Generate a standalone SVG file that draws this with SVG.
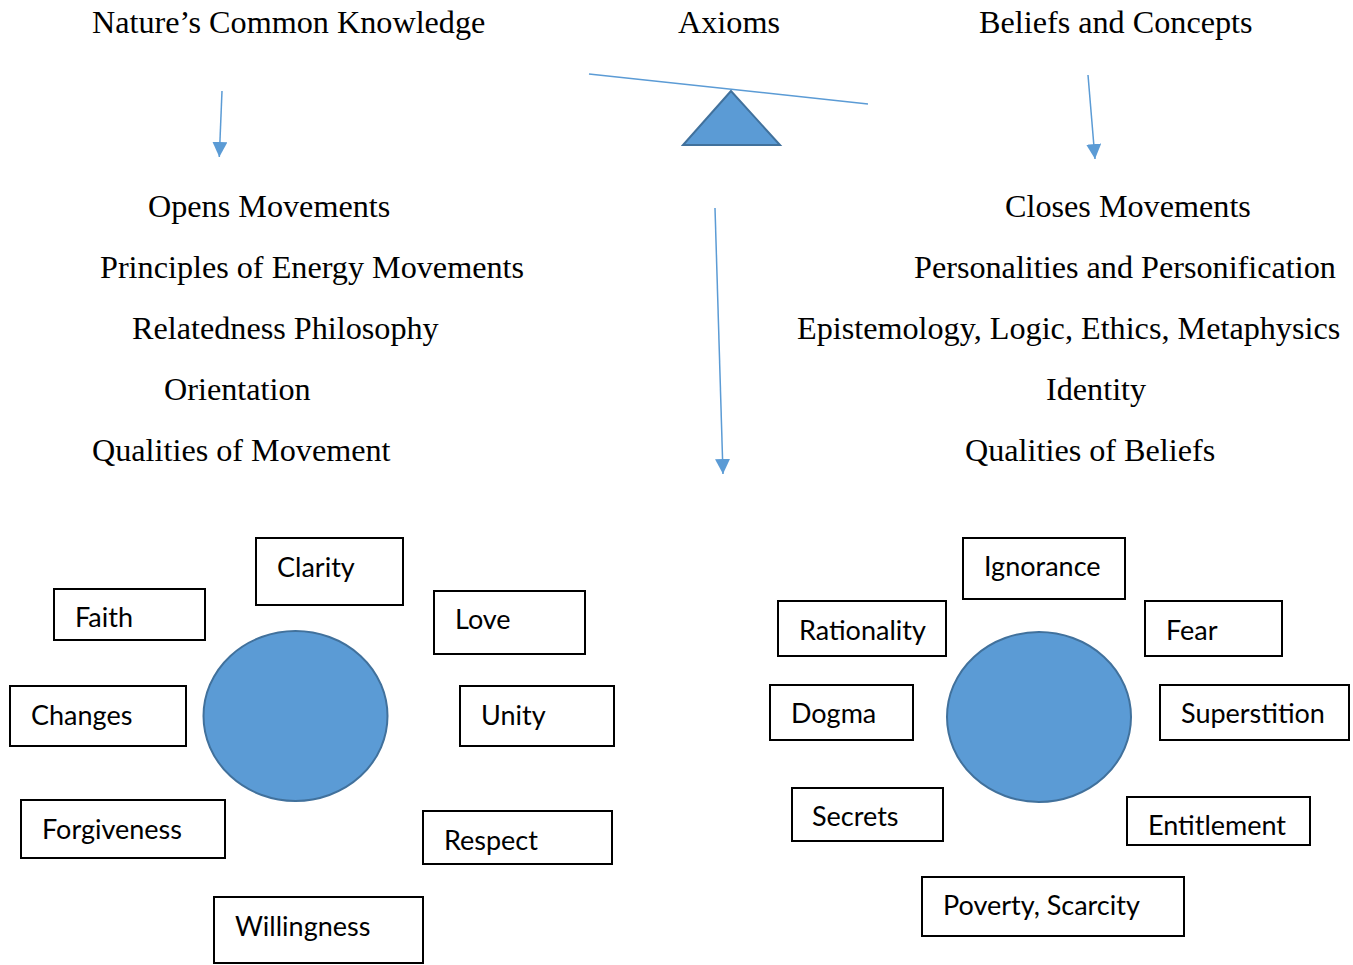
<svg xmlns="http://www.w3.org/2000/svg" width="1353" height="965" viewBox="0 0 1353 965">
<defs>
<style>
.t{font-family:"Liberation Serif","Times New Roman",serif;font-size:32.2px;fill:#000}
.b{fill:#fff;stroke:#000;stroke-width:2}
.bt{font-family:Lato,"Open Sans",sans-serif;font-size:27px;fill:#000}
.c{fill:#5b9bd5;stroke:#41719c;stroke-width:2}
.ln{stroke:#5b9bd5;stroke-width:1.5;fill:none}
</style>
<marker id="ah" markerUnits="userSpaceOnUse" markerWidth="16" markerHeight="16" refX="15" refY="7.5" orient="auto">
<path d="M0,0 L15,7.5 L0,15 Z" fill="#5b9bd5"/>
</marker>
</defs>
<rect width="1353" height="965" fill="#fff"/>

<g id="headings">
<text class="t" x="92" y="33">Nature’s Common Knowledge</text>
<text class="t" x="678" y="33">Axioms</text>
<text class="t" x="979" y="33">Beliefs and Concepts</text>
</g>

<g id="left-list">
<text class="t" x="148" y="217">Opens Movements</text>
<text class="t" x="100" y="278">Principles of Energy Movements</text>
<text class="t" x="132" y="339">Relatedness Philosophy</text>
<text class="t" x="164" y="400">Orientation</text>
<text class="t" x="92" y="461">Qualities of Movement</text>
</g>

<g id="right-list">
<text class="t" x="1005" y="217">Closes Movements</text>
<text class="t" x="914" y="278">Personalities and Personification</text>
<text class="t" x="797" y="339">Epistemology, Logic, Ethics, Metaphysics</text>
<text class="t" x="1046" y="400">Identity</text>
<text class="t" x="965" y="461">Qualities of Beliefs</text>
</g>

<g id="fulcrum">
<polygon class="c" points="731,91 683,145 780,145" stroke-width="2.5"/>
</g>

<g id="connectors">
<line class="ln" x1="589" y1="74" x2="868" y2="104"/>
<line class="ln" x1="222" y1="91" x2="219.3" y2="157" marker-end="url(#ah)"/>
<line class="ln" x1="1088" y1="75" x2="1095" y2="159" marker-end="url(#ah)"/>
<line class="ln" x1="715" y1="208" x2="723" y2="474" marker-end="url(#ah)"/>
</g>

<g id="left-circle"><ellipse class="c" cx="295.5" cy="716" rx="92" ry="85"/></g>
<g id="right-circle"><ellipse class="c" cx="1039" cy="717" rx="92" ry="85"/></g>

<g id="clarity"><rect class="b" x="256" y="538" width="147" height="67"/><text class="bt" x="277" y="577">Clarity</text></g>
<g id="faith"><rect class="b" x="54" y="589" width="151" height="51"/><text class="bt" x="75" y="627">Faith</text></g>
<g id="love"><rect class="b" x="434" y="591" width="151" height="63"/><text class="bt" x="455" y="629">Love</text></g>
<g id="changes"><rect class="b" x="10" y="686" width="176" height="60"/><text class="bt" x="31" y="725">Changes</text></g>
<g id="unity"><rect class="b" x="460" y="686" width="154" height="60"/><text class="bt" x="481" y="725">Unity</text></g>
<g id="forgiveness"><rect class="b" x="21" y="800" width="204" height="58"/><text class="bt" x="42" y="839">Forgiveness</text></g>
<g id="respect"><rect class="b" x="423" y="811" width="189" height="53"/><text class="bt" x="444" y="850">Respect</text></g>
<g id="willingness"><rect class="b" x="214" y="897" width="209" height="66"/><text class="bt" x="235" y="936">Willingness</text></g>

<g id="ignorance"><rect class="b" x="963" y="538" width="162" height="61"/><text class="bt" x="984" y="576">Ignorance</text></g>
<g id="rationality"><rect class="b" x="778" y="601" width="168" height="55"/><text class="bt" x="799" y="640">Rationality</text></g>
<g id="fear"><rect class="b" x="1145" y="601" width="137" height="55"/><text class="bt" x="1166" y="640">Fear</text></g>
<g id="dogma"><rect class="b" x="770" y="685" width="143" height="55"/><text class="bt" x="791" y="723">Dogma</text></g>
<g id="superstition"><rect class="b" x="1160" y="685" width="189" height="55"/><text class="bt" x="1181" y="723">Superstition</text></g>
<g id="secrets"><rect class="b" x="792" y="788" width="151" height="53"/><text class="bt" x="812" y="826">Secrets</text></g>
<g id="entitlement"><rect class="b" x="1127" y="797" width="183" height="48"/><text class="bt" x="1148" y="835">Entitlement</text></g>
<g id="poverty"><rect class="b" x="922" y="877" width="262" height="59"/><text class="bt" x="943" y="915">Poverty, Scarcity</text></g>
</svg>
